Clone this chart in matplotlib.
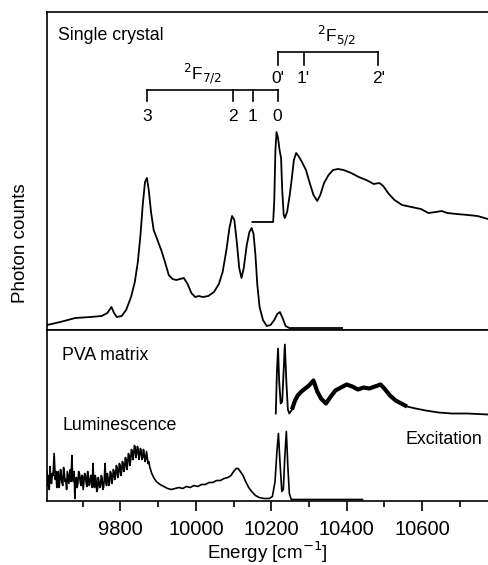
import numpy as np
import matplotlib
matplotlib.use("Agg")
import matplotlib.pyplot as plt

plt.rcParams['font.family'] = ['Liberation Sans', 'DejaVu Sans']

# single crystal, luminescence (cm-1, arb. counts)
sc_lum_E = [9605, 9640, 9680, 9720, 9750, 9765, 9776, 9783, 9790, 9803, 9815, 9828, 9838,
            9846, 9853, 9859, 9865, 9870, 9875, 9881, 9888, 9898, 9908, 9918, 9928, 9938,
            9948, 9958, 9968, 9978, 9988, 9998, 10008, 10018, 10033, 10048, 10061, 10071,
            10081, 10089, 10096, 10102, 10108, 10115, 10121, 10127, 10135, 10142, 10148,
            10153, 10158, 10163, 10169, 10178, 10188, 10198, 10208, 10216, 10223, 10230,
            10238, 10248, 10300, 10388]
sc_lum_val = [5, 8, 12, 13, 14, 17, 23, 17, 13, 14, 20, 33, 48,
              68, 95, 125, 148, 152, 140, 118, 100, 90, 80, 68, 55, 51,
              50, 51, 52, 46, 37, 33, 34, 33, 34, 38, 46, 58,
              80, 102, 114, 110, 90, 62, 52, 62, 85,
              98, 102, 96, 75, 45, 23, 10, 4, 5, 10, 16, 18, 12,
              4, 2, 2, 2]

# single crystal, excitation
sc_exc_E = [10150, 10205, 10208, 10211, 10214, 10218, 10222, 10226, 10229, 10233, 10236,
            10242, 10249, 10254, 10260, 10266, 10272, 10280, 10292, 10302, 10312, 10322,
            10330, 10340, 10352, 10364, 10377, 10392, 10412, 10432, 10452, 10472, 10487,
            10497, 10512, 10527, 10547, 10572, 10597, 10617, 10637, 10652, 10667, 10692,
            10722, 10747, 10775]
sc_exc_val = [108, 108, 130, 180, 198, 192, 180, 172, 140, 115, 112,
              118, 135, 150, 170, 177, 174, 169, 160, 147, 135, 129,
              135, 147, 155, 160, 161, 160, 157, 153, 150, 146, 147,
              144, 136, 130, 125, 123, 121, 117, 118, 119, 117, 116,
              115, 114, 111]

# PVA matrix, luminescence
pva_lum_E = [9605, 9607, 9609, 9611, 9613, 9615, 9617, 9619, 9621, 9624, 9627, 9629, 9631,
             9633, 9635, 9637, 9639, 9641, 9643, 9645, 9647, 9649, 9651, 9653, 9655, 9657,
             9659, 9661, 9663, 9665, 9667, 9669, 9671, 9673, 9675, 9677, 9679, 9681, 9683,
             9685, 9687, 9689, 9691, 9693, 9695, 9697, 9699, 9701, 9703, 9705, 9707, 9709,
             9711, 9713, 9715, 9717, 9719, 9721, 9723, 9725, 9727, 9729, 9731, 9733, 9735,
             9737, 9739, 9741, 9743, 9745, 9747, 9749, 9751, 9753, 9755, 9757, 9759, 9761,
             9763, 9765, 9767, 9769, 9771, 9773, 9775, 9777, 9779, 9781, 9783, 9785, 9787,
             9789, 9791, 9793, 9795, 9797, 9799, 9801, 9803, 9805, 9807, 9809, 9811, 9813,
             9815, 9817, 9819, 9821, 9823, 9825, 9827, 9829, 9831, 9833, 9835, 9837, 9839,
             9841, 9843, 9845, 9847, 9849, 9851, 9853, 9855, 9857, 9859, 9861, 9863, 9865,
             9867, 9869, 9871, 9873, 9875, 9878, 9883, 9888, 9895, 9905, 9915, 9925, 9935,
             9945, 9955, 9965, 9975, 9985, 9995, 10005, 10015, 10025, 10035, 10045, 10055,
             10065, 10075, 10085, 10093, 10100, 10107, 10112, 10118, 10125, 10132, 10140,
             10148, 10158, 10168, 10180, 10195, 10203, 10210, 10215, 10219, 10223, 10228,
             10232, 10236, 10240, 10244, 10248, 10253, 10260, 10442]
pva_lum_val = [30, 16, 26, 12, 35, 22, 18, 28, 26, 48, 22, 30, 14,
               26, 30, 14, 20, 32, 26, 18, 16, 34, 28, 20, 22, 12,
               30, 24, 18, 28, 32, 20, 46, 24, 20, 30, 3, 22, 24,
               14, 18, 30, 28, 20, 16, 26, 26, 12, 20, 28, 27, 18,
               15, 30, 24, 16, 18, 26, 26, 14, 38, 20, 14, 26, 22,
               10, 12, 24, 20, 14, 16, 26, 24, 12, 14, 22, 38, 20,
               16, 28, 24, 16, 20, 30, 28, 18, 22, 32, 30, 22, 26,
               36, 34, 24, 28, 38, 36, 26, 30, 40, 38, 30, 34, 44,
               42, 32, 38, 48, 46, 36, 42, 52, 50, 42, 47, 56, 54,
               44, 48, 55, 52, 42, 46, 53, 50, 42, 44, 52, 47, 40,
               42, 50, 44, 38, 40, 34, 28, 24, 20, 17, 15, 13, 12,
               13, 14, 13, 15, 14, 16, 15, 17, 17, 19, 19, 21,
               21, 23, 24, 26, 30, 33, 33, 30, 26, 20, 14,
               10, 6, 4, 3, 3, 5, 20, 50, 68, 40, 10,
               12, 45, 70, 35, 8, 2, 2, 2]

# PVA matrix, excitation
pva_exc_E = [10212, 10215, 10218, 10221, 10225, 10229, 10233, 10236, 10240, 10244, 10248,
             10255, 10262, 10270, 10280, 10290, 10300, 10312, 10322, 10332, 10345, 10358,
             10370, 10385, 10400, 10415, 10430, 10445, 10460, 10475, 10490, 10500, 10515,
             10530, 10545, 10560, 10583, 10610, 10644, 10680, 10720, 10775]
pva_exc_val = [88, 130, 153, 120, 98, 100, 132, 157, 120, 92, 88,
               92, 100, 106, 110, 113, 116, 121, 110, 103, 98, 105,
               111, 114, 117, 115, 112, 114, 113, 115, 117, 113, 106,
               101, 98, 95, 93, 91, 89, 88, 88, 87]

levels_72 = [('3', 9870), ('2', 10098), ('1', 10151), ('0', 10217)]
levels_52 = [("0'", 10217), ("1'", 10286), ("2'", 10484)]

xmin, xmax = 9605, 10775
lw = 1.3

fig = plt.figure(figsize=(4.88, 5.65), dpi=100)
ax1 = fig.add_axes([0.0963, 0.4159, 0.9037, 0.5629])
ax2 = fig.add_axes([0.0963, 0.1124, 0.9037, 0.3035])

ax1.plot(sc_lum_E, sc_lum_val, color='black', lw=lw)
ax1.plot(sc_exc_E, sc_exc_val, color='black', lw=lw)
ax1.set_xlim(xmin, xmax)
ax1.set_ylim(0, 318)

# energy level ladders
x72 = [e for _, e in levels_72]
ax1.plot([min(x72), max(x72)], [240, 240], color='black', lw=1.2)
for lab, e in levels_72:
    ax1.plot([e, e], [240, 229], color='black', lw=1.2)
    ax1.text(e, 213, lab, ha='center', va='center', fontsize=12.5)
ax1.text(10018, 256, r'$^2$F$_{7/2}$', ha='center', va='center', fontsize=12.5)

x52 = [e for _, e in levels_52]
ax1.plot([min(x52), max(x52)], [278, 278], color='black', lw=1.2)
for lab, e in levels_52:
    ax1.plot([e, e], [278, 265], color='black', lw=1.2)
    ax1.text(e, 251, lab, ha='center', va='center', fontsize=12.5)
ax1.text(10372, 294, r'$^2$F$_{5/2}$', ha='center', va='center', fontsize=12.5)

ax1.text(0.025, 0.925, 'Single crystal', transform=ax1.transAxes, ha='left', va='center', fontsize=12.8)

ax2.plot(pva_lum_E, pva_lum_val, color='black', lw=1.2)
ax2.plot(pva_exc_E, pva_exc_val, color='black', lw=lw)
pe = np.array(pva_exc_E)
pv = np.array(pva_exc_val)
m = (pe >= 10255) & (pe <= 10560)
ax2.plot(pe[m], pv[m], color='black', lw=3.0, solid_capstyle='butt')
ax2.set_xlim(xmin, xmax)
ax2.set_ylim(0, 171.5)

ax2.text(0.034, 0.854, 'PVA matrix', transform=ax2.transAxes, ha='left', va='center', fontsize=12.8)
ax2.text(0.036, 0.446, 'Luminescence', transform=ax2.transAxes, ha='left', va='center', fontsize=12.8)
ax2.text(0.986, 0.359, 'Excitation', transform=ax2.transAxes, ha='right', va='center', fontsize=12.8)

for ax in (ax1, ax2):
    ax.spines['right'].set_visible(False)
    for s in ('left', 'top', 'bottom'):
        ax.spines[s].set_linewidth(1.2)
    ax.set_yticks([])

ax1.set_xticks([])
ax2.set_xticks([9800, 10000, 10200, 10400, 10600])
ax2.set_xticks(np.arange(9700, 10775, 200), minor=True)
ax2.tick_params(axis='x', which='major', direction='out', length=7, width=1.2, labelsize=14.5, pad=6)
ax2.tick_params(axis='x', which='minor', direction='out', length=4, width=1.2)
ax2.set_xlabel(r'Energy [cm$^{-1}$]', fontsize=13.5, labelpad=1)

fig.text(0.042, 0.57, 'Photon counts', rotation=90, ha='center', va='center', fontsize=13.5)

fig.savefig('out.png', dpi=100)
